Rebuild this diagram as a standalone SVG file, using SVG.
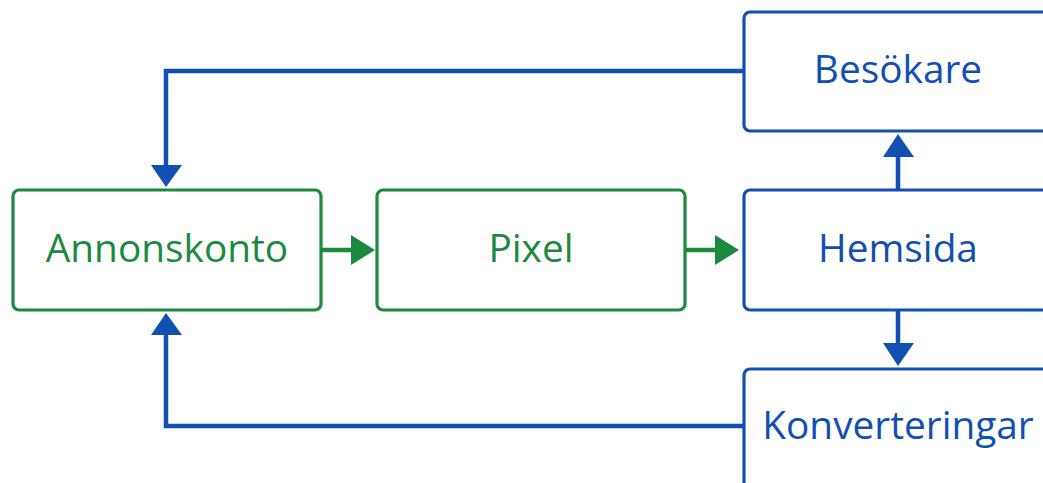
<svg xmlns="http://www.w3.org/2000/svg" width="1043" height="483" viewBox="0 0 1043 483">
<defs>
<style>
.box{fill:#fff;stroke-width:3.2}
.g{stroke:#1b8a3e}
.b{stroke:#1150b2}
.tg{fill:#1b8a3e}
.tb{fill:#1150b2}
text{font-family:"Open Sans","Noto Sans",sans-serif;font-size:38.8px;text-anchor:middle}
.ln{fill:none;stroke-width:4.5}
</style>
</defs>
<rect width="1043" height="483" fill="#fff"/>
<g id="connectors">
<path class="ln b" d="M744 71 H166 V166"/>
<polygon class="tb" points="151,165 182,165 166,187"/>
<path class="ln b" d="M744 426 H166 V334"/>
<polygon class="tb" points="151,335 182,335 166,313"/>
<path class="ln g" d="M321 250 H352"/>
<polygon class="tg" points="351,235 351,265 375,250"/>
<path class="ln g" d="M685 250 H716"/>
<polygon class="tg" points="715,235 715,265 739,250"/>
<path class="ln b" d="M898 190 V156"/>
<polygon class="tb" points="883,157 914,157 898,134"/>
<path class="ln b" d="M898 310 V344"/>
<polygon class="tb" points="883,343 914,343 898,366"/>
</g>
<g id="annonskonto">
<rect class="box g" x="13" y="190" width="308" height="120" rx="6"/>
<text class="tg" x="167" y="262">Annonskonto</text>
</g>
<g id="pixel">
<rect class="box g" x="377" y="190" width="308" height="120" rx="6"/>
<text class="tg" x="531" y="262">Pixel</text>
</g>
<g id="hemsida">
<rect class="box b" x="744" y="190" width="308" height="120" rx="6"/>
<text class="tb" x="898" y="262">Hemsida</text>
</g>
<g id="besokare">
<rect class="box b" x="744" y="12" width="308" height="119" rx="6"/>
<text class="tb" x="898" y="83">Besökare</text>
</g>
<g id="konverteringar">
<rect class="box b" x="744" y="369" width="308" height="120" rx="6"/>
<text class="tb" x="898" y="439">Konverteringar</text>
</g>
</svg>
